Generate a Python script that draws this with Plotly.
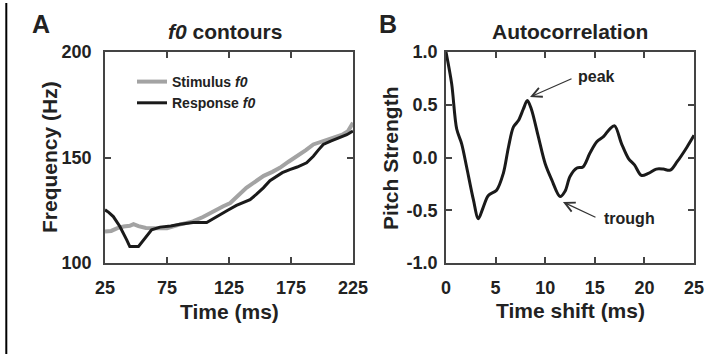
import plotly.graph_objects as go

W, H = 708, 354

# ---- Panel A data: f0 contours ----
stim_t = [25, 30, 35, 40, 45, 48, 52, 58, 65, 75, 85, 96, 104, 112, 120, 126, 133, 139,
          146, 153, 160, 166, 173, 180, 187, 193, 200, 206, 212, 217, 221, 225]
stim_f = [114.9, 115.2, 116.5, 117.3, 117.6, 118.4, 117.5, 116.6, 116.5, 116.5, 118.2, 119.7,
          121.8, 124.4, 126.8, 128.4, 132.0, 135.6, 138.5, 141.3, 143.2, 145.1, 148.0, 150.6,
          153.5, 156.2, 157.5, 159.0, 160.0, 161.0, 162.5, 166.5]
resp_t = [25, 28, 31.7, 37, 42.5, 45, 52, 56, 62.6, 69.4, 78, 85.5, 96, 107, 112, 117.7, 124,
          131, 137, 142, 147, 152.7, 158, 163, 168, 174, 180, 187.6, 193, 197, 201, 207, 214.5,
          220, 225]
resp_f = [125.2, 124.0, 122.0, 117.3, 111.0, 107.8, 107.8, 111.0, 115.7, 117.0, 117.5, 118.4,
          119.2, 119.2, 121.0, 122.9, 125.0, 127.3, 128.7, 130.0, 132.5, 135.6, 139.0, 141.1,
          142.8, 144.3, 145.5, 147.5, 150.6, 153.5, 156.2, 157.8, 159.4, 160.8, 162.5]

# ---- Panel B data: autocorrelation ----
lag_ms = [0, 0.57, 1.08, 1.58, 2.08, 2.76, 3.26, 3.76, 4.27, 5.1, 5.78, 6.3, 6.8, 7.3, 7.8,
          8.2, 8.6, 9.3, 10.0, 10.65, 11.5, 12.0, 12.5, 13.2, 13.8, 14.5, 15.2, 15.9, 16.5,
          17.0, 17.7, 18.4, 19.0, 19.7, 20.4, 21.2, 21.9, 22.6, 23.3, 24.3, 25.0]
pitch = [1.0, 0.70, 0.27, 0.13, -0.09, -0.40, -0.58, -0.47, -0.36, -0.31, -0.15, 0.10, 0.29,
         0.35, 0.46, 0.54, 0.46, 0.20, -0.06, -0.21, -0.37, -0.32, -0.18, -0.10, -0.09, 0.04,
         0.15, 0.20, 0.27, 0.30, 0.13, -0.01, -0.07, -0.17, -0.15, -0.11, -0.11, -0.12, -0.04,
         0.10, 0.21]

xA_ticks = [25, 75, 125, 175, 225]
yA_ticks = [100, 150, 200]
xB_ticks = [0, 5, 10, 15, 20, 25]
yB_ticks = [-1.0, -0.5, 0.0, 0.5, 1.0]
yB_labels = ["-1.0", "-0.5", "0.0", "0.5", "1.0"]

FONT = "Liberation Sans, Arial, sans-serif"
TXT = "#222222"
AX = "#444444"


def px(x):
    return x / W


def py(y):
    return 1 - y / H


fig = go.Figure()
fig.add_trace(go.Scatter(x=stim_t, y=stim_f, mode="lines", name="Stimulus <i>f0</i>",
                         line=dict(color="#a3a3a3", width=4), xaxis="x", yaxis="y"))
fig.add_trace(go.Scatter(x=resp_t, y=resp_f, mode="lines", name="Response <i>f0</i>",
                         line=dict(color="#1a1a1a", width=3), xaxis="x", yaxis="y"))
fig.add_trace(go.Scatter(x=lag_ms, y=pitch, mode="lines", showlegend=False,
                         line=dict(color="#1a1a1a", width=3, shape="spline", smoothing=0.9),
                         xaxis="x2", yaxis="y2"))

axis_common = dict(showline=True, linecolor=AX, linewidth=1.5, mirror="ticks",
                   ticks="inside", ticklen=6, tickwidth=1.5, tickcolor=AX,
                   showgrid=False, zeroline=False, automargin=False,
                   tickfont=dict(family=FONT, size=18, color=TXT, weight="bold"))

fig.update_layout(
    width=W, height=H,
    margin=dict(l=0, r=0, t=0, b=0),
    paper_bgcolor="white", plot_bgcolor="white",
    xaxis=dict(domain=[px(105), px(353)], range=[25, 225], tickvals=xA_ticks,
               anchor="y", ticklabelstandoff=8, **axis_common),
    yaxis=dict(domain=[py(263), py(52)], range=[100, 200], tickvals=yA_ticks,
               anchor="x", ticklabelstandoff=8, **axis_common),
    xaxis2=dict(domain=[px(446), px(694)], range=[0, 25], tickvals=xB_ticks,
                anchor="y2", ticklabelstandoff=8, **axis_common),
    yaxis2=dict(domain=[py(263), py(52)], range=[-1, 1], tickvals=yB_ticks,
                ticktext=yB_labels, anchor="x2", ticklabelstandoff=3, **axis_common),
    showlegend=True,
    legend=dict(x=px(132), y=py(66), xanchor="left", yanchor="top",
                bgcolor="rgba(0,0,0,0)", borderwidth=0, tracegroupgap=0,
                font=dict(family=FONT, size=14, color=TXT, weight="bold"),
                itemwidth=30),
)

ann = []


def text_ann(text, x, y, size, angle=0, xanchor="center"):
    ann.append(dict(text=text, x=px(x), y=py(y), xref="paper", yref="paper",
                    xanchor=xanchor, yanchor="middle", showarrow=False, textangle=angle,
                    font=dict(family=FONT, size=size, color=TXT, weight="bold")))


text_ann("A", 41, 24, 25)
text_ann("B", 388, 24, 25)
text_ann("<i>f0</i> contours", 225, 31, 21)
text_ann("Autocorrelation", 570, 31, 21)
text_ann("Time (ms)", 229, 311, 21)
text_ann("Time shift (ms)", 570, 310, 21)
text_ann("Frequency (Hz)", 49, 157, 21, angle=-90)
text_ann("Pitch Strength", 390, 158, 21, angle=-90)
text_ann("peak", 576, 77, 16, xanchor="left")
text_ann("trough", 602, 218, 16, xanchor="left")

# arrows in panel B (heads anchored to data)
ann.append(dict(text="", x=8.47, y=0.573, xref="x2", yref="y2", ax=43, ay=-19,
                showarrow=True, arrowhead=5, arrowsize=1.6, arrowwidth=1.2,
                arrowcolor="#333333"))
ann.append(dict(text="", x=11.79, y=-0.422, xref="x2", yref="y2", ax=34, ay=16,
                showarrow=True, arrowhead=5, arrowsize=1.6, arrowwidth=1.2,
                arrowcolor="#333333"))
fig.update_layout(annotations=ann)

# left black rule
fig.add_shape(type="line", xref="paper", yref="paper", x0=px(6.3), x1=px(6.3),
              y0=py(3), y1=0, line=dict(color="black", width=2))

fig.write_html("out.html")
